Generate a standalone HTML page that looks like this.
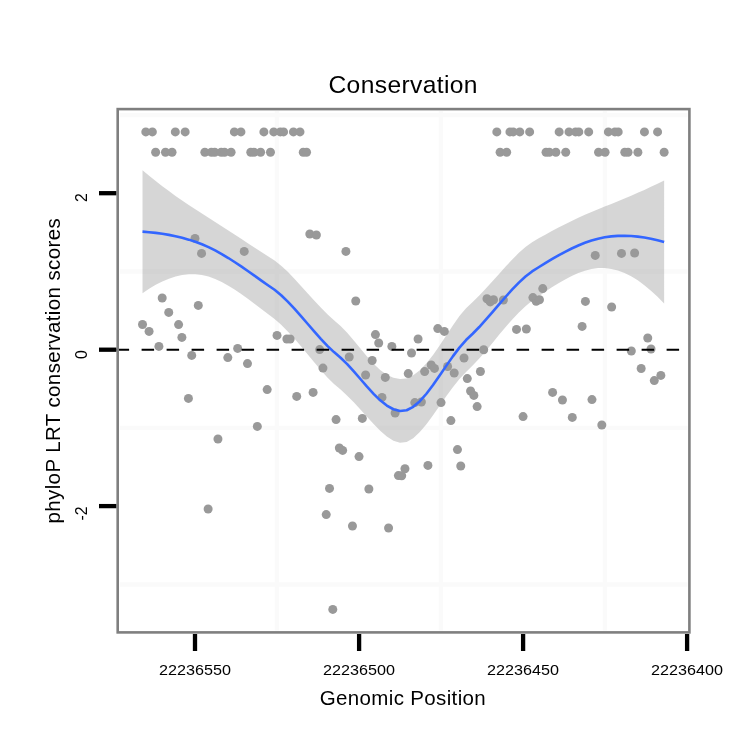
<!DOCTYPE html>
<html><head><meta charset="utf-8">
<style>
html,body{margin:0;padding:0;background:#fff;}
svg{display:block;will-change:transform;}
text{font-family:"Liberation Sans",sans-serif;fill:#000;}
</style></head>
<body>
<svg width="750" height="750" viewBox="0 0 750 750">
<rect width="750" height="750" fill="#fff"/>
<!-- minor grid -->
<g stroke="#fafafa" stroke-width="4.3" fill="none" id="grid">
<line x1="120" x2="687.5" y1="115.1" y2="115.1"/>
<line x1="120" x2="687.5" y1="271.5" y2="271.5"/>
<line x1="120" x2="687.5" y1="427.9" y2="427.9"/>
<line x1="120" x2="687.5" y1="584.5" y2="584.5"/>
<line x1="276.9" x2="276.9" y1="111" y2="630.5"/>
<line x1="440.9" x2="440.9" y1="111" y2="630.5"/>
<line x1="604.9" x2="604.9" y1="111" y2="630.5"/>
</g>
<g fill="#999999"><circle cx="142.51" cy="324.50" r="4.50"/><circle cx="145.79" cy="131.90" r="4.50"/><circle cx="149.07" cy="331.40" r="4.50"/><circle cx="152.35" cy="131.90" r="4.50"/><circle cx="155.63" cy="152.30" r="4.50"/><circle cx="158.91" cy="346.40" r="4.50"/><circle cx="162.19" cy="298.00" r="4.50"/><circle cx="165.47" cy="152.30" r="4.50"/><circle cx="168.75" cy="312.40" r="4.50"/><circle cx="172.04" cy="152.30" r="4.50"/><circle cx="175.32" cy="131.90" r="4.50"/><circle cx="178.60" cy="324.60" r="4.50"/><circle cx="181.88" cy="337.40" r="4.50"/><circle cx="185.16" cy="131.90" r="4.50"/><circle cx="188.44" cy="398.40" r="4.50"/><circle cx="191.72" cy="355.40" r="4.50"/><circle cx="195.00" cy="238.40" r="4.50"/><circle cx="198.28" cy="305.40" r="4.50"/><circle cx="201.56" cy="253.40" r="4.50"/><circle cx="204.84" cy="152.30" r="4.50"/><circle cx="208.12" cy="509.00" r="4.50"/><circle cx="211.40" cy="152.30" r="4.50"/><circle cx="214.68" cy="152.30" r="4.50"/><circle cx="217.96" cy="439.00" r="4.50"/><circle cx="221.25" cy="152.30" r="4.50"/><circle cx="224.53" cy="152.30" r="4.50"/><circle cx="227.81" cy="357.60" r="4.50"/><circle cx="231.09" cy="152.30" r="4.50"/><circle cx="234.37" cy="131.90" r="4.50"/><circle cx="237.65" cy="348.40" r="4.50"/><circle cx="240.93" cy="131.90" r="4.50"/><circle cx="244.21" cy="251.40" r="4.50"/><circle cx="247.49" cy="363.60" r="4.50"/><circle cx="250.77" cy="152.30" r="4.50"/><circle cx="254.05" cy="152.30" r="4.50"/><circle cx="257.33" cy="426.40" r="4.50"/><circle cx="260.61" cy="152.30" r="4.50"/><circle cx="263.89" cy="131.90" r="4.50"/><circle cx="267.18" cy="389.60" r="4.50"/><circle cx="270.46" cy="152.30" r="4.50"/><circle cx="273.74" cy="131.90" r="4.50"/><circle cx="277.02" cy="335.40" r="4.50"/><circle cx="280.30" cy="131.90" r="4.50"/><circle cx="283.58" cy="131.90" r="4.50"/><circle cx="286.86" cy="339.00" r="4.50"/><circle cx="290.14" cy="339.00" r="4.50"/><circle cx="293.42" cy="131.90" r="4.50"/><circle cx="296.70" cy="396.40" r="4.50"/><circle cx="299.98" cy="131.90" r="4.50"/><circle cx="303.26" cy="152.30" r="4.50"/><circle cx="306.54" cy="152.30" r="4.50"/><circle cx="309.82" cy="234.00" r="4.50"/><circle cx="313.11" cy="392.40" r="4.50"/><circle cx="316.39" cy="235.00" r="4.50"/><circle cx="319.67" cy="349.60" r="4.50"/><circle cx="322.95" cy="368.10" r="4.50"/><circle cx="326.23" cy="514.60" r="4.50"/><circle cx="329.51" cy="488.40" r="4.50"/><circle cx="332.79" cy="609.40" r="4.50"/><circle cx="336.07" cy="419.60" r="4.50"/><circle cx="339.35" cy="448.00" r="4.50"/><circle cx="342.63" cy="450.40" r="4.50"/><circle cx="345.91" cy="251.40" r="4.50"/><circle cx="349.19" cy="357.00" r="4.50"/><circle cx="352.47" cy="526.00" r="4.50"/><circle cx="355.75" cy="301.00" r="4.50"/><circle cx="359.03" cy="456.60" r="4.50"/><circle cx="362.32" cy="418.40" r="4.50"/><circle cx="365.60" cy="375.00" r="4.50"/><circle cx="368.88" cy="489.00" r="4.50"/><circle cx="372.16" cy="360.50" r="4.50"/><circle cx="375.44" cy="334.60" r="4.50"/><circle cx="378.72" cy="343.00" r="4.50"/><circle cx="382.00" cy="397.40" r="4.50"/><circle cx="385.28" cy="377.40" r="4.50"/><circle cx="388.56" cy="528.00" r="4.50"/><circle cx="391.84" cy="346.40" r="4.50"/><circle cx="395.12" cy="413.00" r="4.50"/><circle cx="398.40" cy="475.60" r="4.50"/><circle cx="401.68" cy="475.80" r="4.50"/><circle cx="404.96" cy="468.70" r="4.50"/><circle cx="408.25" cy="373.60" r="4.50"/><circle cx="411.53" cy="353.00" r="4.50"/><circle cx="414.81" cy="402.60" r="4.50"/><circle cx="418.09" cy="339.00" r="4.50"/><circle cx="421.37" cy="402.00" r="4.50"/><circle cx="424.65" cy="371.60" r="4.50"/><circle cx="427.93" cy="465.40" r="4.50"/><circle cx="431.21" cy="365.00" r="4.50"/><circle cx="434.49" cy="368.40" r="4.50"/><circle cx="437.77" cy="328.60" r="4.50"/><circle cx="441.05" cy="402.60" r="4.50"/><circle cx="444.33" cy="331.40" r="4.50"/><circle cx="447.61" cy="366.50" r="4.50"/><circle cx="450.89" cy="420.60" r="4.50"/><circle cx="454.18" cy="373.00" r="4.50"/><circle cx="457.46" cy="449.60" r="4.50"/><circle cx="460.74" cy="466.00" r="4.50"/><circle cx="464.02" cy="358.00" r="4.50"/><circle cx="467.30" cy="378.60" r="4.50"/><circle cx="470.58" cy="391.00" r="4.50"/><circle cx="473.86" cy="395.40" r="4.50"/><circle cx="477.14" cy="406.60" r="4.50"/><circle cx="480.42" cy="371.50" r="4.50"/><circle cx="483.70" cy="349.80" r="4.50"/><circle cx="486.98" cy="298.70" r="4.50"/><circle cx="490.26" cy="301.90" r="4.50"/><circle cx="493.54" cy="299.70" r="4.50"/><circle cx="496.82" cy="131.90" r="4.50"/><circle cx="500.11" cy="152.30" r="4.50"/><circle cx="503.39" cy="300.00" r="4.50"/><circle cx="506.67" cy="152.30" r="4.50"/><circle cx="509.95" cy="131.90" r="4.50"/><circle cx="513.23" cy="131.90" r="4.50"/><circle cx="516.51" cy="329.40" r="4.50"/><circle cx="519.79" cy="131.90" r="4.50"/><circle cx="523.07" cy="416.60" r="4.50"/><circle cx="526.35" cy="329.00" r="4.50"/><circle cx="529.63" cy="131.90" r="4.50"/><circle cx="532.91" cy="297.60" r="4.50"/><circle cx="536.19" cy="301.30" r="4.50"/><circle cx="539.47" cy="299.70" r="4.50"/><circle cx="542.75" cy="288.60" r="4.50"/><circle cx="546.03" cy="152.30" r="4.50"/><circle cx="549.32" cy="152.30" r="4.50"/><circle cx="552.60" cy="392.40" r="4.50"/><circle cx="555.88" cy="152.30" r="4.50"/><circle cx="559.16" cy="131.90" r="4.50"/><circle cx="562.44" cy="400.00" r="4.50"/><circle cx="565.72" cy="152.30" r="4.50"/><circle cx="569.00" cy="131.90" r="4.50"/><circle cx="572.28" cy="417.40" r="4.50"/><circle cx="575.56" cy="131.90" r="4.50"/><circle cx="578.84" cy="131.90" r="4.50"/><circle cx="582.12" cy="326.40" r="4.50"/><circle cx="585.40" cy="301.40" r="4.50"/><circle cx="588.68" cy="131.90" r="4.50"/><circle cx="591.96" cy="399.60" r="4.50"/><circle cx="595.25" cy="255.40" r="4.50"/><circle cx="598.53" cy="152.30" r="4.50"/><circle cx="601.81" cy="425.00" r="4.50"/><circle cx="605.09" cy="152.30" r="4.50"/><circle cx="608.37" cy="131.90" r="4.50"/><circle cx="611.65" cy="307.00" r="4.50"/><circle cx="614.93" cy="131.90" r="4.50"/><circle cx="618.21" cy="131.90" r="4.50"/><circle cx="621.49" cy="253.40" r="4.50"/><circle cx="624.77" cy="152.30" r="4.50"/><circle cx="628.05" cy="152.30" r="4.50"/><circle cx="631.33" cy="351.00" r="4.50"/><circle cx="634.61" cy="253.00" r="4.50"/><circle cx="637.89" cy="152.30" r="4.50"/><circle cx="641.18" cy="368.50" r="4.50"/><circle cx="644.46" cy="131.90" r="4.50"/><circle cx="647.74" cy="338.00" r="4.50"/><circle cx="651.02" cy="349.00" r="4.50"/><circle cx="654.30" cy="380.60" r="4.50"/><circle cx="657.58" cy="131.90" r="4.50"/><circle cx="660.86" cy="375.40" r="4.50"/><circle cx="664.14" cy="152.30" r="4.50"/></g>
<path d="M142.51 170.21 L149.11 175.70 L155.71 181.01 L162.32 186.14 L168.92 191.11 L175.52 195.90 L182.13 200.53 L188.73 204.99 L195.33 209.32 L201.94 213.54 L208.54 217.70 L215.14 221.89 L221.74 226.14 L228.35 230.43 L234.95 234.75 L241.55 239.09 L248.16 243.43 L254.76 247.76 L261.36 252.05 L267.96 256.26 L274.57 260.47 L281.17 265.64 L287.77 271.80 L294.38 278.64 L300.98 285.89 L307.58 293.28 L314.18 300.58 L320.79 307.61 L327.39 314.21 L333.99 320.26 L340.60 325.88 L347.20 332.65 L353.80 340.41 L360.41 348.55 L367.01 356.50 L373.61 363.75 L380.21 369.90 L386.82 374.66 L393.42 377.79 L400.02 379.12 L406.63 378.40 L413.23 375.37 L419.83 370.25 L426.43 363.33 L433.04 354.94 L439.64 345.47 L446.24 335.43 L452.85 325.42 L459.45 316.11 L466.05 308.21 L472.66 301.92 L479.26 295.41 L485.86 288.48 L492.46 281.27 L499.07 273.91 L505.67 266.57 L512.27 259.47 L518.88 252.85 L525.48 246.98 L532.08 242.14 L538.68 238.33 L545.29 234.67 L551.89 231.09 L558.49 227.60 L565.10 224.23 L571.70 220.97 L578.30 217.85 L584.90 214.85 L591.51 211.97 L598.11 209.22 L604.71 206.58 L611.32 203.94 L617.92 201.26 L624.52 198.53 L631.13 195.72 L637.73 192.84 L644.33 189.88 L650.93 186.85 L657.54 183.75 L664.14 180.59 L664.14 303.50 L657.54 296.76 L650.93 290.63 L644.33 285.15 L637.73 280.36 L631.13 276.30 L624.52 273.01 L617.92 270.53 L611.32 268.88 L604.71 268.07 L598.11 268.11 L591.51 269.00 L584.90 270.68 L578.30 273.05 L571.70 276.00 L565.10 279.43 L558.49 283.25 L551.89 287.37 L545.29 291.71 L538.68 296.18 L532.08 300.78 L525.48 306.18 L518.88 312.44 L512.27 319.40 L505.67 326.93 L499.07 334.84 L492.46 342.93 L485.86 350.95 L479.26 358.61 L472.66 365.62 L466.05 371.90 L459.45 379.09 L452.85 387.33 L446.24 396.31 L439.64 405.72 L433.04 415.17 L426.43 424.16 L419.83 432.09 L413.23 438.29 L406.63 442.07 L400.02 442.78 L393.42 440.71 L386.82 436.49 L380.21 430.72 L373.61 423.98 L367.01 416.75 L360.41 409.43 L353.80 402.32 L347.20 395.64 L340.60 389.57 L333.99 383.96 L327.39 377.42 L320.79 370.08 L314.18 362.24 L307.58 354.21 L300.98 346.24 L294.38 338.57 L287.77 331.39 L281.17 324.85 L274.57 319.11 L267.96 314.11 L261.36 309.08 L254.76 304.04 L248.16 299.08 L241.55 294.29 L234.95 289.77 L228.35 285.63 L221.74 281.97 L215.14 278.92 L208.54 276.58 L201.94 275.03 L195.33 274.26 L188.73 274.26 L182.13 275.01 L175.52 276.48 L168.92 278.63 L162.32 281.42 L155.71 284.79 L149.11 288.71 L142.51 293.13 Z" fill="#999999" fill-opacity="0.4"/>
<path d="M142.51 231.67 L149.11 232.21 L155.71 232.90 L162.32 233.78 L168.92 234.87 L175.52 236.19 L182.13 237.77 L188.73 239.63 L195.33 241.79 L201.94 244.29 L208.54 247.14 L215.14 250.41 L221.74 254.06 L228.35 258.03 L234.95 262.26 L241.55 266.69 L248.16 271.26 L254.76 275.90 L261.36 280.57 L267.96 285.19 L274.57 289.79 L281.17 295.25 L287.77 301.59 L294.38 308.61 L300.98 316.07 L307.58 323.74 L314.18 331.41 L320.79 338.84 L327.39 345.82 L333.99 352.11 L340.60 357.72 L347.20 364.14 L353.80 371.37 L360.41 378.99 L367.01 386.62 L373.61 393.86 L380.21 400.31 L386.82 405.57 L393.42 409.25 L400.02 410.95 L406.63 410.23 L413.23 406.83 L419.83 401.17 L426.43 393.75 L433.04 385.06 L439.64 375.60 L446.24 365.87 L452.85 356.37 L459.45 347.60 L466.05 340.05 L472.66 333.77 L479.26 327.01 L485.86 319.72 L492.46 312.10 L499.07 304.38 L505.67 296.75 L512.27 289.44 L518.88 282.64 L525.48 276.58 L532.08 271.46 L538.68 267.26 L545.29 263.19 L551.89 259.23 L558.49 255.42 L565.10 251.83 L571.70 248.48 L578.30 245.45 L584.90 242.77 L591.51 240.49 L598.11 238.66 L604.71 237.32 L611.32 236.41 L617.92 235.90 L624.52 235.77 L631.13 236.01 L637.73 236.60 L644.33 237.52 L650.93 238.74 L657.54 240.26 L664.14 242.04" fill="none" stroke="#3366ff" stroke-width="2.6" stroke-linejoin="round"/>
<line x1="116.6" x2="690" y1="349.7" y2="349.7" stroke="#000" stroke-width="2.1" stroke-dasharray="12.5 12.5"/>
<rect x="117.7" y="109.1" width="571.7" height="523.3" fill="none" stroke="#7f7f7f" stroke-width="2.6"/>
<g stroke="#000" stroke-width="4.3">
<line x1="195" x2="195" y1="634" y2="651"/>
<line x1="359.1" x2="359.1" y1="634" y2="651"/>
<line x1="523.1" x2="523.1" y1="634" y2="651"/>
<line x1="687.1" x2="687.1" y1="634" y2="651"/>
<line x1="99" x2="116.3" y1="193.2" y2="193.2"/>
<line x1="99" x2="116.3" y1="349.7" y2="349.7"/>
<line x1="99" x2="116.3" y1="506.1" y2="506.1"/>
</g>
<g font-size="15" text-anchor="middle">
<text transform="translate(195,674.7) scale(1.079,1)">22236550</text>
<text transform="translate(359.1,674.7) scale(1.079,1)">22236500</text>
<text transform="translate(523.1,674.7) scale(1.079,1)">22236450</text>
<text transform="translate(687.1,674.7) scale(1.079,1)">22236400</text>
</g>
<g font-size="15.8" text-anchor="end">
<text transform="translate(87.3,193.2) rotate(-90)">2</text>
<text transform="translate(87.3,350.2) rotate(-90)">0</text>
<text transform="translate(87.3,506.4) rotate(-90)">-2</text>
</g>
<text x="403.2" y="92.7" font-size="24.6" letter-spacing="0.38" text-anchor="middle">Conservation</text>
<text x="402.9" y="705.3" font-size="20.5" letter-spacing="0.36" text-anchor="middle">Genomic Position</text>
<text transform="translate(60.2,370.7) rotate(-90)" font-size="20.5" letter-spacing="0.39" text-anchor="middle">phyloP LRT conservation scores</text>
</svg>
</body></html>
